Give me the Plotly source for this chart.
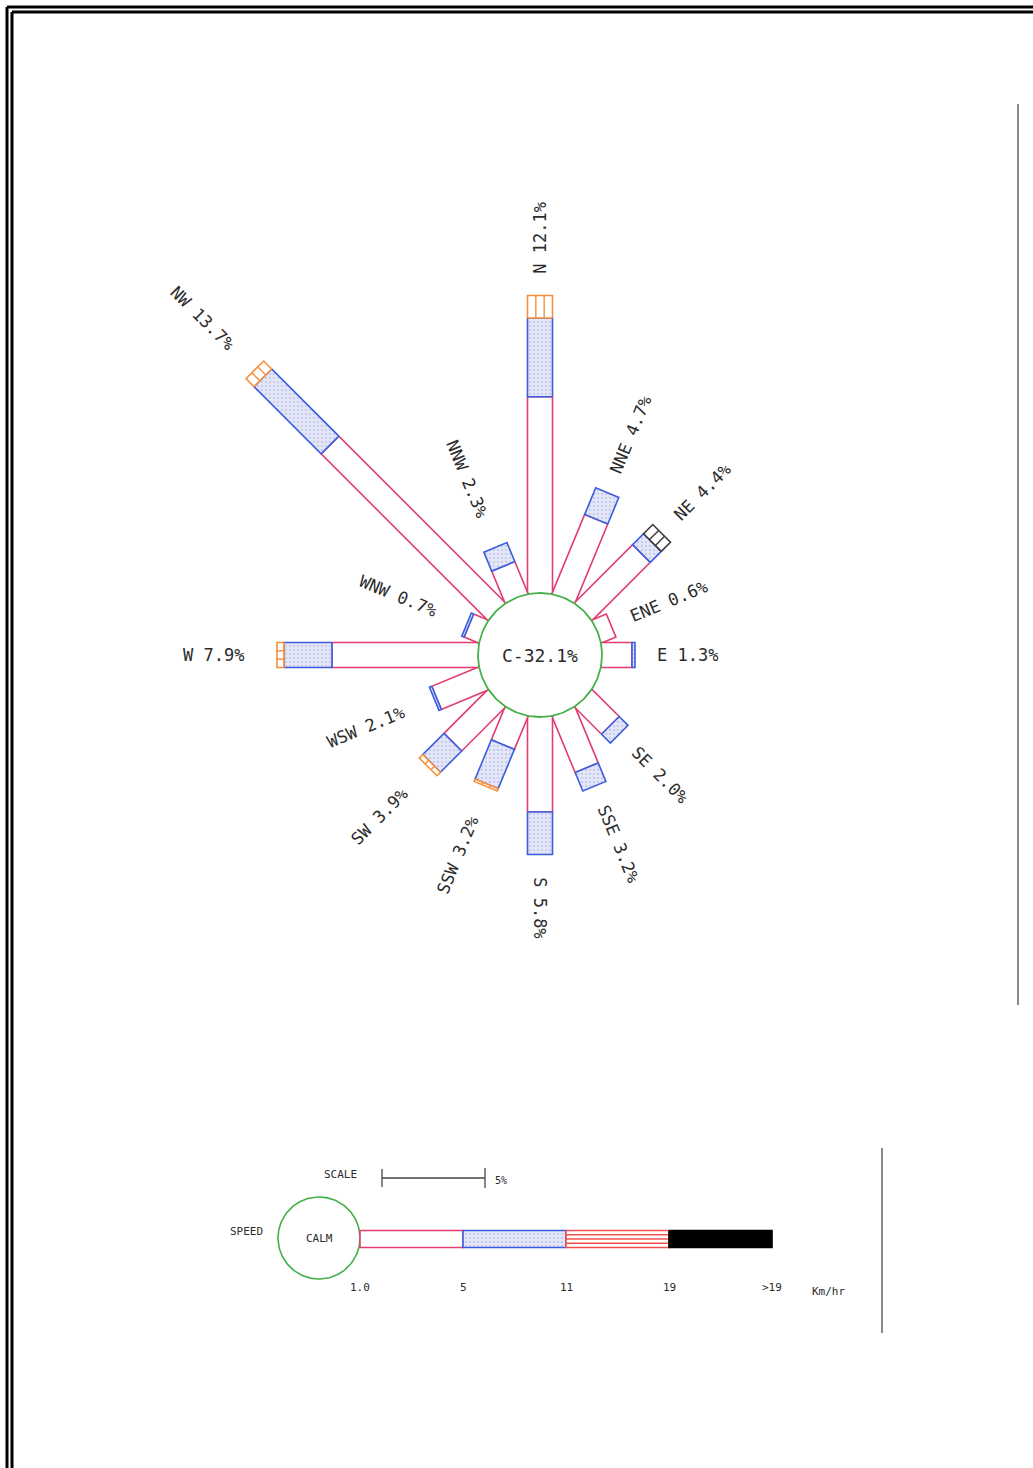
import math
import plotly.graph_objects as go

# ---------------- data ----------------
directions = ["N", "NNE", "NE", "ENE", "E", "ESE", "SE", "SSE",
              "S", "SSW", "SW", "WSW", "W", "WNW", "NW", "NNW"]
label_pct = ["12.1", "4.7", "4.4", "0.6", "1.3", "", "2.0", "3.2",
             "5.8", "3.2", "3.9", "2.1", "7.9", "0.7", "13.7", "2.3"]
# frequency (%) per speed class
spd_1_5 = [7.85, 3.4, 3.26, 0.6, 1.2, 0.0, 1.5, 2.4, 3.8, 1.4, 2.45, 2.0, 5.84, 0.6, 9.4, 1.36]
spd_5_11 = [3.15, 1.15, 0.62, 0.0, 0.12, 0.0, 0.5, 0.8, 1.7, 1.7, 1.2, 0.1, 1.92, 0.1, 3.8, 0.82]
spd_11_19 = [0.9, 0.0, 0.0, 0.0, 0.0, 0.0, 0.0, 0.0, 0.0, 0.1, 0.2, 0.0, 0.28, 0.0, 0.45, 0.0]
spd_gt19 = [0.0, 0.0, 0.52, 0.0, 0.0, 0.0, 0.0, 0.0, 0.0, 0.0, 0.0, 0.0, 0.0, 0.0, 0.0, 0.0]
calm_pct = "32.1"

speed_labels = ["1.0", "5", "11", "19", ">19"]
speed_unit = "Km/hr"
scale_pct = 5
legend_seg_pct = 5

# ---------------- style / geometry ----------------
W, H = 1033, 1468
CX, CY = 540, 655          # rose centre (px)
R0 = 62                    # calm circle radius (px)
K = 25.0                   # px per percent
BAR_W = 25
PINK = "#e23d6f"
BLUE = "#3b5de0"
BLUE_FILL = "#e6e8f8"
ORANGE = "#f78e3a"
DARK = "#3a3a3a"
GREEN = "#45b04a"
TXT = "#2b2b2b"
FONT = "DejaVu Sans Mono"

fig = go.Figure()


def seg_poly(theta, r1, r2, hw):
    ux, uy = math.sin(theta), -math.cos(theta)
    px, py = math.cos(theta), math.sin(theta)
    pts = [(CX + ux * r1 + px * hw, CY + uy * r1 + py * hw),
           (CX + ux * r2 + px * hw, CY + uy * r2 + py * hw),
           (CX + ux * r2 - px * hw, CY + uy * r2 - py * hw),
           (CX + ux * r1 - px * hw, CY + uy * r1 - py * hw)]
    pts.append(pts[0])
    return [p[0] for p in pts], [p[1] for p in pts]


def stripes(theta, r1, r2, hw, n=3):
    ux, uy = math.sin(theta), -math.cos(theta)
    px, py = math.cos(theta), math.sin(theta)
    xs, ys = [], []
    for k in range(1, n):
        off = -hw + 2 * hw * k / n
        xs += [CX + ux * r1 + px * off, CX + ux * r2 + px * off, None]
        ys += [CY + uy * r1 + py * off, CY + uy * r2 + py * off, None]
    return xs, ys


hw = BAR_W / 2
r_start = math.sqrt(R0 ** 2 - hw ** 2)
classes = [
    (spd_1_5, PINK, "white", None, False),
    (spd_5_11, BLUE, BLUE_FILL, "dots", False),
    (spd_11_19, ORANGE, "white", None, True),
    (spd_gt19, DARK, "white", None, True),
]

for i, d in enumerate(directions):
    theta = math.radians(22.5 * i)
    total = spd_1_5[i] + spd_5_11[i] + spd_11_19[i] + spd_gt19[i]
    if total <= 0:
        continue
    r = R0
    for vals, lc, fc, pat, striped in classes:
        v = vals[i]
        if v <= 0:
            continue
        r1 = r_start if r == R0 else r
        r2 = r + v * K
        xs, ys = seg_poly(theta, r1, r2, hw)
        kw = dict(x=xs, y=ys, mode="lines", fill="toself", fillcolor=fc,
                  line=dict(color=lc, width=1.6), hoverinfo="skip", showlegend=False)
        if pat == "dots":
            kw["fillpattern"] = dict(shape=".", fgcolor="#a9b3e6", bgcolor=BLUE_FILL,
                                     size=4, solidity=0.35)
        fig.add_trace(go.Scatter(**kw))
        if striped:
            sx, sy = stripes(theta, r1, r2, hw)
            fig.add_trace(go.Scatter(x=sx, y=sy, mode="lines",
                                     line=dict(color=lc, width=1.4),
                                     hoverinfo="skip", showlegend=False))
        r = r2

    # label
    text = f"{d} {label_pct[i]}%"
    deg = 22.5 * i
    right_side = deg <= 180
    ang = deg - 90 if right_side else deg - 270
    gap = 22 if right_side else 33
    half_len = len(text) * 0.602 * 17 / 2
    rl = r + gap + half_len
    fig.add_annotation(x=CX + math.sin(theta) * rl, y=CY - math.cos(theta) * rl,
                       text=text, textangle=ang, showarrow=False,
                       font=dict(family=FONT, size=17, color=TXT),
                       xanchor="center", yanchor="middle")

# calm circle
tt = [2 * math.pi * k / 180 for k in range(181)]
fig.add_trace(go.Scatter(x=[CX + R0 * math.cos(t) for t in tt],
                         y=[CY + R0 * math.sin(t) for t in tt],
                         mode="lines", fill="toself", fillcolor="white",
                         line=dict(color=GREEN, width=1.8),
                         hoverinfo="skip", showlegend=False))
fig.add_annotation(x=CX, y=CY, text=f"C-{calm_pct}%", showarrow=False,
                   font=dict(family=FONT, size=18, color=TXT))

# ---------------- legend ----------------
LCX, LCY, LR = 319, 1238, 41
KL = 20.6  # legend px per percent
fig.add_trace(go.Scatter(x=[LCX + LR * math.cos(t) for t in tt],
                         y=[LCY + LR * math.sin(t) for t in tt],
                         mode="lines", line=dict(color=GREEN, width=1.6),
                         hoverinfo="skip", showlegend=False))
fig.add_annotation(x=LCX, y=LCY, text="CALM", showarrow=False,
                   font=dict(family=FONT, size=11, color=TXT))
fig.add_annotation(x=246, y=1231, text="SPEED", showarrow=False,
                   font=dict(family=FONT, size=11, color=TXT))

# scale bar
sx0 = 382
sx1 = sx0 + scale_pct * KL
SY = 1178
fig.add_trace(go.Scatter(x=[sx0, sx1, None, sx0, sx0, None, sx1, sx1],
                         y=[SY, SY, None, SY - 9, SY + 9, None, SY - 10, SY + 10],
                         mode="lines", line=dict(color="#444", width=1.3),
                         hoverinfo="skip", showlegend=False))
fig.add_annotation(x=340, y=1174, text="SCALE", showarrow=False,
                   font=dict(family=FONT, size=11, color=TXT))
fig.add_annotation(x=sx1 + 8, y=SY + 2, text=f"{scale_pct}%", showarrow=False,
                   xanchor="left", font=dict(family=FONT, size=10, color=TXT))

# legend bar
LBY = 1239
lhw = 8.5
lx = LCX + LR
leg_styles = [(PINK, "white", None, False), (BLUE, BLUE_FILL, "dots", False),
              ("#f2504a", "white", None, True), ("black", "black", None, False)]
for j, (lc, fc, pat, striped) in enumerate(leg_styles):
    x1 = lx + j * legend_seg_pct * KL
    x2 = x1 + legend_seg_pct * KL
    kw = dict(x=[x1, x2, x2, x1, x1], y=[LBY - lhw, LBY - lhw, LBY + lhw, LBY + lhw, LBY - lhw],
              mode="lines", fill="toself", fillcolor=fc, line=dict(color=lc, width=1.6),
              hoverinfo="skip", showlegend=False)
    if pat == "dots":
        kw["fillpattern"] = dict(shape=".", fgcolor="#a9b3e6", bgcolor=BLUE_FILL,
                                 size=4, solidity=0.35)
    fig.add_trace(go.Scatter(**kw))
    if striped:
        xs, ys = [], []
        for k in range(1, 4):
            yy = LBY - lhw + 2 * lhw * k / 4
            xs += [x1, x2, None]
            ys += [yy, yy, None]
        fig.add_trace(go.Scatter(x=xs, y=ys, mode="lines", line=dict(color=lc, width=1.3),
                                 hoverinfo="skip", showlegend=False))
for j, lab in enumerate(speed_labels):
    fig.add_annotation(x=lx + j * legend_seg_pct * KL, y=1287, text=lab, showarrow=False,
                       font=dict(family=FONT, size=11, color=TXT))
fig.add_annotation(x=lx + len(leg_styles) * legend_seg_pct * KL + 56, y=1291, text=speed_unit,
                   showarrow=False, font=dict(family=FONT, size=11, color=TXT))

# ---------------- frame ----------------
shapes = []
for off in (7, 12):
    shapes.append(dict(type="line", xref="x", yref="y", x0=off, y0=off, x1=W + 5, y1=off,
                       line=dict(color="black", width=3)))
    shapes.append(dict(type="line", xref="x", yref="y", x0=off, y0=off, x1=off, y1=H + 5,
                       line=dict(color="black", width=3)))
shapes.append(dict(type="line", xref="x", yref="y", x0=1018, y0=104, x1=1018, y1=1005,
                   line=dict(color="#8a8a8a", width=2)))
shapes.append(dict(type="line", xref="x", yref="y", x0=882, y0=1148, x1=882, y1=1333,
                   line=dict(color="#8a8a8a", width=2)))

fig.update_layout(
    width=W, height=H, margin=dict(l=0, r=0, t=0, b=0),
    paper_bgcolor="white", plot_bgcolor="white",
    xaxis=dict(range=[0, W], visible=False, fixedrange=True),
    yaxis=dict(range=[H, 0], visible=False, fixedrange=True),
    shapes=shapes, showlegend=False,
)

fig.write_html("out.html", config={"displayModeBar": False},
               post_script="document.body.style.margin='0';document.body.style.overflow='hidden';")
